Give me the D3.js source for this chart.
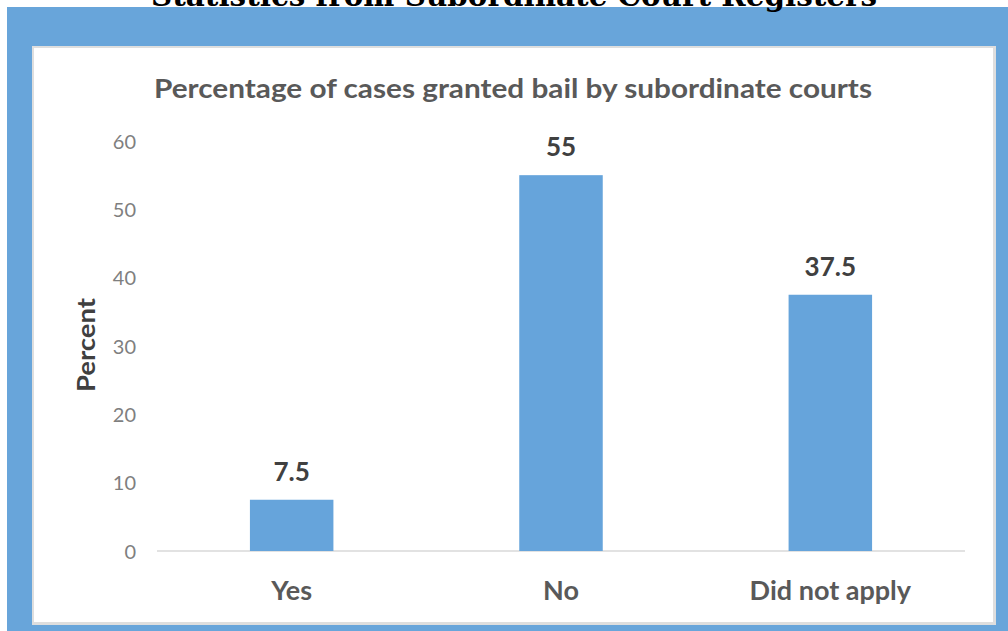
<!DOCTYPE html>
<html>
<head>
<meta charset="utf-8">
<script src="https://cdn.jsdelivr.net/npm/d3@7"></script>
<style>
  html, body { margin: 0; padding: 0; background: #ffffff; }
  svg { display: block; }
</style>
</head>
<body>
<svg id="chart" width="1008" height="631"></svg>
<script>
const categories = ["Yes", "No", "Did not apply"];
const percentValues = [7.5, 55, 37.5];
const yTicks = [0, 10, 20, 30, 40, 50, 60];
const chartTitle = "Percentage of cases granted bail by subordinate courts";
const pageHeading = "Statistics from Subordinate Court Registers";
const yAxisTitle = "Percent";

const svg = d3.select("#chart");
const W = 1008, H = 631;
const blue = "#68a5da";
const font = "Lato, 'Open Sans', 'DejaVu Sans', sans-serif";

// frame
svg.append("rect").attr("x", 7).attr("y", 7).attr("width", W - 7).attr("height", H - 7).attr("fill", blue);
svg.append("rect").attr("x", 32).attr("y", 46).attr("width", 964).attr("height", 579).attr("fill", "#dedede");
svg.append("rect").attr("x", 34).attr("y", 48).attr("width", 959).attr("height", 574).attr("fill", "#ffffff");

// cut-off page heading
svg.append("text")
  .attr("x", 151).attr("y", 6)
  .attr("textLength", 726).attr("lengthAdjust", "spacingAndGlyphs")
  .attr("font-family", "'DejaVu Serif', 'Liberation Serif', serif")
  .attr("font-weight", "bold").attr("font-size", 30)
  .attr("fill", "#000").text(pageHeading);

// plot scales
const x0 = 157, x1 = 965, yBase = 551, yTop = 141;
const x = d3.scaleBand().domain(categories).range([x0, x1]).paddingInner(0.69).paddingOuter(0.345);
const y = d3.scaleLinear().domain([0, 60]).range([yBase, yTop]);

// title
svg.append("text")
  .attr("x", 513).attr("y", 98).attr("text-anchor", "middle")
  .attr("textLength", 718).attr("lengthAdjust", "spacingAndGlyphs")
  .attr("font-family", font).attr("font-weight", "bold").attr("font-size", 27)
  .attr("fill", "#595959").text(chartTitle);

// y axis
const yAxis = d3.axisLeft(y).tickValues(yTicks).tickSize(0).tickPadding(0).tickFormat(d3.format("d"));
const gy = svg.append("g").attr("transform", "translate(136,0)").call(yAxis);
gy.select(".domain").remove();
gy.selectAll("text")
  .attr("font-family", font).attr("font-size", 20).attr("fill", "#7f7f7f")
  .attr("dy", "0.35em");

// baseline
svg.append("line")
  .attr("x1", x0).attr("x2", x1).attr("y1", y(0)).attr("y2", y(0))
  .attr("stroke", "#d9d9d9").attr("stroke-width", 1.5);

// bars
svg.selectAll("rect.bar").data(percentValues).enter().append("rect")
  .attr("class", "bar")
  .attr("x", (d, i) => x(categories[i]))
  .attr("width", x.bandwidth())
  .attr("y", d => y(d))
  .attr("height", d => y(0) - y(d))
  .attr("fill", "#66a4db");

// value labels
svg.selectAll("text.val").data(percentValues).enter().append("text")
  .attr("class", "val")
  .attr("x", (d, i) => x(categories[i]) + x.bandwidth() / 2)
  .attr("y", d => y(d) - 19)
  .attr("text-anchor", "middle")
  .attr("font-family", font).attr("font-weight", "bold").attr("font-size", 26)
  .attr("fill", "#404040")
  .text(d => d);

// x axis
const xAxis = d3.axisBottom(x).tickSize(0).tickPadding(0);
const gx = svg.append("g").attr("transform", `translate(0,${yBase})`).call(xAxis);
gx.select(".domain").remove();
gx.selectAll("text")
  .attr("font-family", font).attr("font-size", 27).attr("font-weight", "bold")
  .attr("fill", "#595959").attr("dy", null).attr("y", 49);

// y axis title
svg.append("text")
  .attr("transform", "translate(95,345) rotate(-90)")
  .attr("text-anchor", "middle")
  .attr("textLength", 94).attr("lengthAdjust", "spacingAndGlyphs")
  .attr("font-family", font).attr("font-weight", "bold").attr("font-size", 24)
  .attr("fill", "#404040").text(yAxisTitle);
</script>
</body>
</html>
